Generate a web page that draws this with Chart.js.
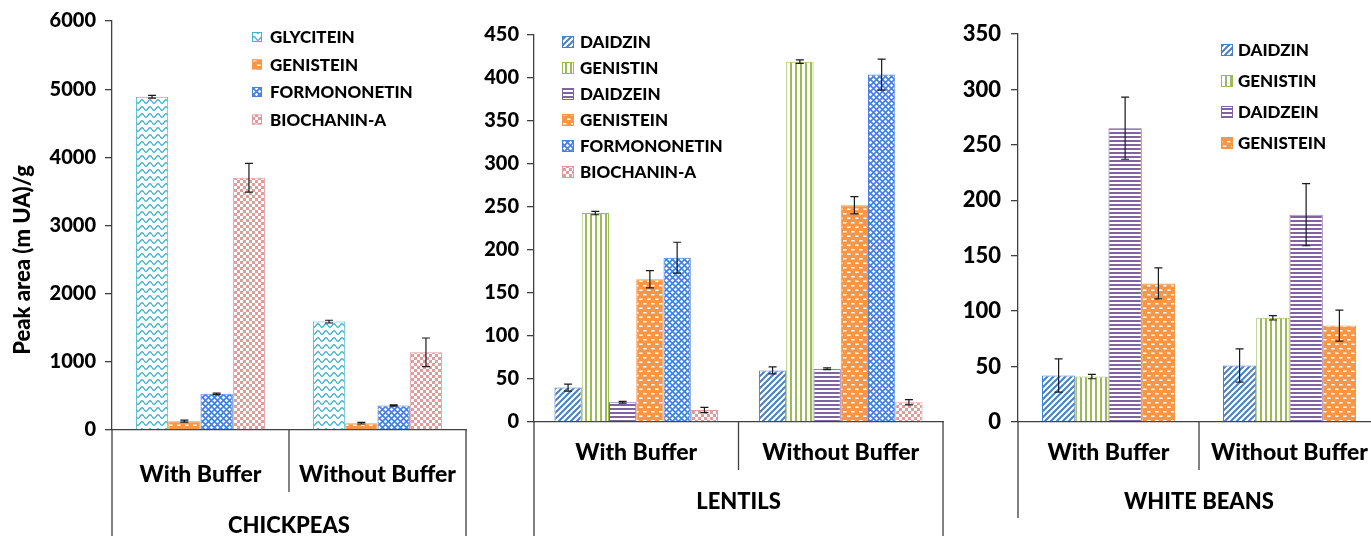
<!DOCTYPE html>
<html>
<head>
<meta charset="utf-8">
<title>Isoflavone peak areas</title>
<script src="https://cdn.jsdelivr.net/npm/chart.js@4.4.1/dist/chart.umd.min.js"></script>
<style>
  html, body { margin: 0; padding: 0; background: #fff; width: 1371px; height: 536px; overflow: hidden; }
  canvas { position: absolute; top: 0; }
</style>
</head>
<body>
<canvas id="chickpeaChart" width="470" height="536" style="left:0px"></canvas>
<canvas id="lentilChart" width="480" height="536" style="left:470px"></canvas>
<canvas id="beanChart" width="440" height="536" style="left:950px"></canvas>
<script>
var groupLabels = ['With Buffer', 'Without Buffer'];

var chickpeaNames = ['GLYCITEIN', 'GENISTEIN', 'FORMONONETIN', 'BIOCHANIN-A'];
var chickpeaValues = [[4890, 1590], [130, 100], [530, 360], [3700, 1140]];
var chickpeaErrors = [[20, 20], [15, 12], [12, 10], [210, 210]];

var lentilNames = ['DAIDZIN', 'GENISTIN', 'DAIDZEIN', 'GENISTEIN', 'FORMONONETIN', 'BIOCHANIN-A'];
var lentilValues = [[40, 60], [243, 419], [23, 62], [166, 252], [191, 404], [14, 23]];
var lentilErrors = [[4, 4], [2, 2], [1, 1], [10, 10], [18, 18], [3, 3]];

var beanNames = ['DAIDZIN', 'GENISTIN', 'DAIDZEIN', 'GENISTEIN'];
var beanValues = [[42, 51], [41, 94], [265, 187], [125, 87]];
var beanErrors = [[15, 15], [2, 2], [28, 28], [14, 14]];

var FONT = 'Lato';
var WEIGHT = '900';
var AXIS = '#404040';

// fill pattern and colour for each compound
var compoundStyle = {
    'GLYCITEIN': ['wave', '#42b4cc'],
    'GENISTEIN': ['dash', '#f79646'],
    'FORMONONETIN': ['diamond', '#4a82d8'],
    'BIOCHANIN-A': ['check', '#e39a9a'],
    'DAIDZIN': ['diag', '#4a7fc4'],
    'GENISTIN': ['vert', '#9bbb59'],
    'DAIDZEIN': ['horz', '#8064a2']
};

function makePattern(kind, color) {
    var c = document.createElement('canvas');
    var g = c.getContext('2d');
    var w = 6, h = 6;
    if (kind === 'wave') { w = 8; h = 7; }
    if (kind === 'dash') { w = 8; h = 9; }
    if (kind === 'vert') { w = 5; h = 5; }
    if (kind === 'horz') { w = 4; h = 4; }
    c.width = w; c.height = h;
    g.fillStyle = '#fff';
    g.fillRect(0, 0, w, h);
    g.fillStyle = color;
    g.strokeStyle = color;
    if (kind === 'wave') {
        g.lineWidth = 1.4;
        g.beginPath();
        for (var i = 0; i <= 16; i++) {
            var px = i / 2;
            var py = 3.5 + 1.8 * Math.sin(px / 8 * Math.PI * 2);
            if (i === 0) g.moveTo(px, py); else g.lineTo(px, py);
        }
        g.stroke();
    } else if (kind === 'dash') {
        g.fillRect(0, 0, w, h);
        g.fillStyle = '#fff';
        g.fillRect(1, 1.5, 3.5, 1.5);
        g.fillRect(5, 6, 3, 1.5);
        g.fillRect(0, 6, 0.5, 1.5);
    } else if (kind === 'diamond') {
        g.fillRect(0, 0, w, h);
        g.fillStyle = '#fff';
        [[1.5, 1.5], [4.5, 4.5], [-1.5, 4.5], [4.5, -1.5], [1.5, 7.5], [7.5, 1.5]].forEach(function (p) {
            g.beginPath();
            g.moveTo(p[0], p[1] - 1.8);
            g.lineTo(p[0] + 1.8, p[1]);
            g.lineTo(p[0], p[1] + 1.8);
            g.lineTo(p[0] - 1.8, p[1]);
            g.closePath();
            g.fill();
        });
    } else if (kind === 'check') {
        g.fillRect(0, 0, w, h);
        g.fillStyle = '#fff';
        g.fillRect(0, 0, 3, 3);
        g.fillRect(3, 3, 3, 3);
    } else if (kind === 'diag') {
        g.lineWidth = 2;
        g.beginPath();
        g.moveTo(-1, 1); g.lineTo(1, -1);
        g.moveTo(-1, 7); g.lineTo(7, -1);
        g.moveTo(5, 7); g.lineTo(7, 5);
        g.stroke();
    } else if (kind === 'vert') {
        g.fillRect(0, 0, 2, h);
    } else if (kind === 'horz') {
        g.fillRect(0, 0, w, 2);
    }
    return g.createPattern(c, 'repeat');
}

function buildDatasets(names, values, errors) {
    return names.map(function (name, i) {
        var st = compoundStyle[name];
        return {
            label: name,
            data: values[i],
            errors: errors[i],
            backgroundColor: makePattern(st[0], st[1]),
            borderColor: st[1],
            borderWidth: 1,
            swatchColor: st[1]
        };
    });
}

// error bars drawn over each bar from the dataset's "errors" array
var errorBars = {
    id: 'errorBars',
    afterDatasetsDraw: function (chart) {
        var ctx = chart.ctx, y = chart.scales.y;
        ctx.save();
        ctx.strokeStyle = '#1a1a1a';
        ctx.lineWidth = 1.2;
        chart.data.datasets.forEach(function (ds, i) {
            chart.getDatasetMeta(i).data.forEach(function (bar, j) {
                var v = ds.data[j], e = ds.errors[j];
                var top = y.getPixelForValue(v + e), bot = y.getPixelForValue(v - e);
                ctx.beginPath();
                ctx.moveTo(bar.x, top); ctx.lineTo(bar.x, bot);
                ctx.moveTo(bar.x - 4, top); ctx.lineTo(bar.x + 4, top);
                ctx.moveTo(bar.x - 4, bot); ctx.lineTo(bar.x + 4, bot);
                ctx.stroke();
            });
        });
        ctx.restore();
    }
};

// legend inside the plot area
var boxLegend = {
    id: 'boxLegend',
    afterDraw: function (chart, args, o) {
        var ctx = chart.ctx;
        ctx.save();
        ctx.font = WEIGHT + ' ' + o.size + 'px ' + FONT;
        ctx.textBaseline = 'middle';
        chart.data.datasets.forEach(function (ds, i) {
            var cy = o.y + i * o.step;
            ctx.fillStyle = ds.backgroundColor;
            ctx.fillRect(o.x, cy - o.box / 2, o.box, o.box);
            ctx.strokeStyle = ds.swatchColor;
            ctx.lineWidth = 1;
            ctx.strokeRect(o.x + 0.5, cy - o.box / 2 + 0.5, o.box - 1, o.box - 1);
            ctx.fillStyle = '#000';
            ctx.fillText(ds.label, o.textX, cy + 1);
        });
        ctx.restore();
    }
};

// two-level category frame below the axis, group name and y title
var axisFrame = {
    id: 'axisFrame',
    afterDraw: function (chart, args, o) {
        var ctx = chart.ctx, a = chart.chartArea, x = chart.scales.x;
        var mid = (x.getPixelForValue(0) + x.getPixelForValue(1)) / 2;
        ctx.save();
        ctx.strokeStyle = AXIS;
        ctx.lineWidth = 1.3;
        ctx.beginPath();
        ctx.moveTo(a.left, a.bottom); ctx.lineTo(a.left, o.lineBottom);
        ctx.moveTo(a.right, a.bottom); ctx.lineTo(a.right, o.lineBottom);
        ctx.moveTo(mid, a.bottom); ctx.lineTo(mid, o.sepBottom);
        ctx.stroke();
        ctx.fillStyle = '#000';
        ctx.font = WEIGHT + ' ' + o.titleSize + 'px ' + FONT;
        ctx.textAlign = 'center';
        ctx.textBaseline = 'middle';
        ctx.fillText(o.title, (a.left + a.right) / 2, o.titleY);
        if (o.yTitle) {
            ctx.translate(o.yTitleX, o.yTitleY);
            ctx.rotate(-Math.PI / 2);
            ctx.font = WEIGHT + ' 22px ' + FONT;
            ctx.fillText(o.yTitle, 0, 0);
        }
        ctx.restore();
    }
};

function makeChart(id, d) {
    var ctx = document.getElementById(id).getContext('2d');
    return new Chart(ctx, {
        type: 'bar',
        data: {
            labels: groupLabels,
            datasets: buildDatasets(d.names, d.values, d.errors)
        },
        options: {
            responsive: false,
            animation: false,
            layout: { autoPadding: false, padding: { top: d.top, right: d.right, left: 0, bottom: 0 } },
            datasets: { bar: { categoryPercentage: d.catPct, barPercentage: 1 } },
            scales: {
                x: {
                    grid: { display: false, drawTicks: false },
                    border: { color: AXIS, width: 1.3 },
                    ticks: {
                        color: '#000',
                        font: { family: FONT, weight: WEIGHT, size: 23 },
                        padding: d.xPad,
                        maxRotation: 0,
                        autoSkip: false
                    },
                    afterFit: function (s) {
                        s.height = d.xHeight;
                        s.paddingLeft = 0;
                        s.paddingRight = 0;
                    }
                },
                y: {
                    min: 0,
                    max: d.max,
                    grid: { drawOnChartArea: false, drawTicks: true, tickLength: 7, color: AXIS, lineWidth: 1.3 },
                    border: { color: AXIS, width: 1.3 },
                    ticks: {
                        stepSize: d.step,
                        color: '#000',
                        font: { family: FONT, weight: WEIGHT, size: d.ySize },
                        padding: d.yPad,
                        callback: function (v) { return String(v); }
                    },
                    afterFit: function (s) { s.width = d.yWidth; }
                }
            },
            plugins: {
                legend: { display: false },
                tooltip: { enabled: false },
                boxLegend: d.legend,
                axisFrame: d.frame
            }
        },
        plugins: [errorBars, boxLegend, axisFrame]
    });
}

makeChart('chickpeaChart', {
    names: chickpeaNames, values: chickpeaValues, errors: chickpeaErrors,
    max: 6000, step: 1000, ySize: 20, yPad: 9, yWidth: 112,
    top: 21, right: 4, xHeight: 106, xPad: 31, catPct: 0.73,
    legend: { x: 252, y: 37, step: 27.5, box: 10, textX: 270, size: 17 },
    frame: { lineBottom: 536, sepBottom: 492, title: 'CHICKPEAS', titleY: 526, titleSize: 22,
             yTitle: 'Peak area (m UA)/g', yTitleX: 23, yTitleY: 260 }
});

makeChart('lentilChart', {
    names: lentilNames, values: lentilValues, errors: lentilErrors,
    max: 450, step: 50, ySize: 20, yPad: 8, yWidth: 64,
    top: 35, right: 7, xHeight: 114, xPad: 17, catPct: 0.80,
    legend: { x: 92, y: 42, step: 26, box: 12, textX: 110, size: 17 },
    frame: { lineBottom: 536, sepBottom: 470, title: 'LENTILS', titleY: 502, titleSize: 22 }
});

makeChart('beanChart', {
    names: beanNames, values: beanValues, errors: beanErrors,
    max: 350, step: 50, ySize: 22, yPad: 10, yWidth: 68,
    top: 34, right: 10, xHeight: 114, xPad: 17, catPct: 0.735,
    legend: { x: 271, y: 50, step: 31, box: 12, textX: 288, size: 17 },
    frame: { lineBottom: 518, sepBottom: 470, title: 'WHITE BEANS', titleY: 502, titleSize: 22 }
});
</script>
</body>
</html>
